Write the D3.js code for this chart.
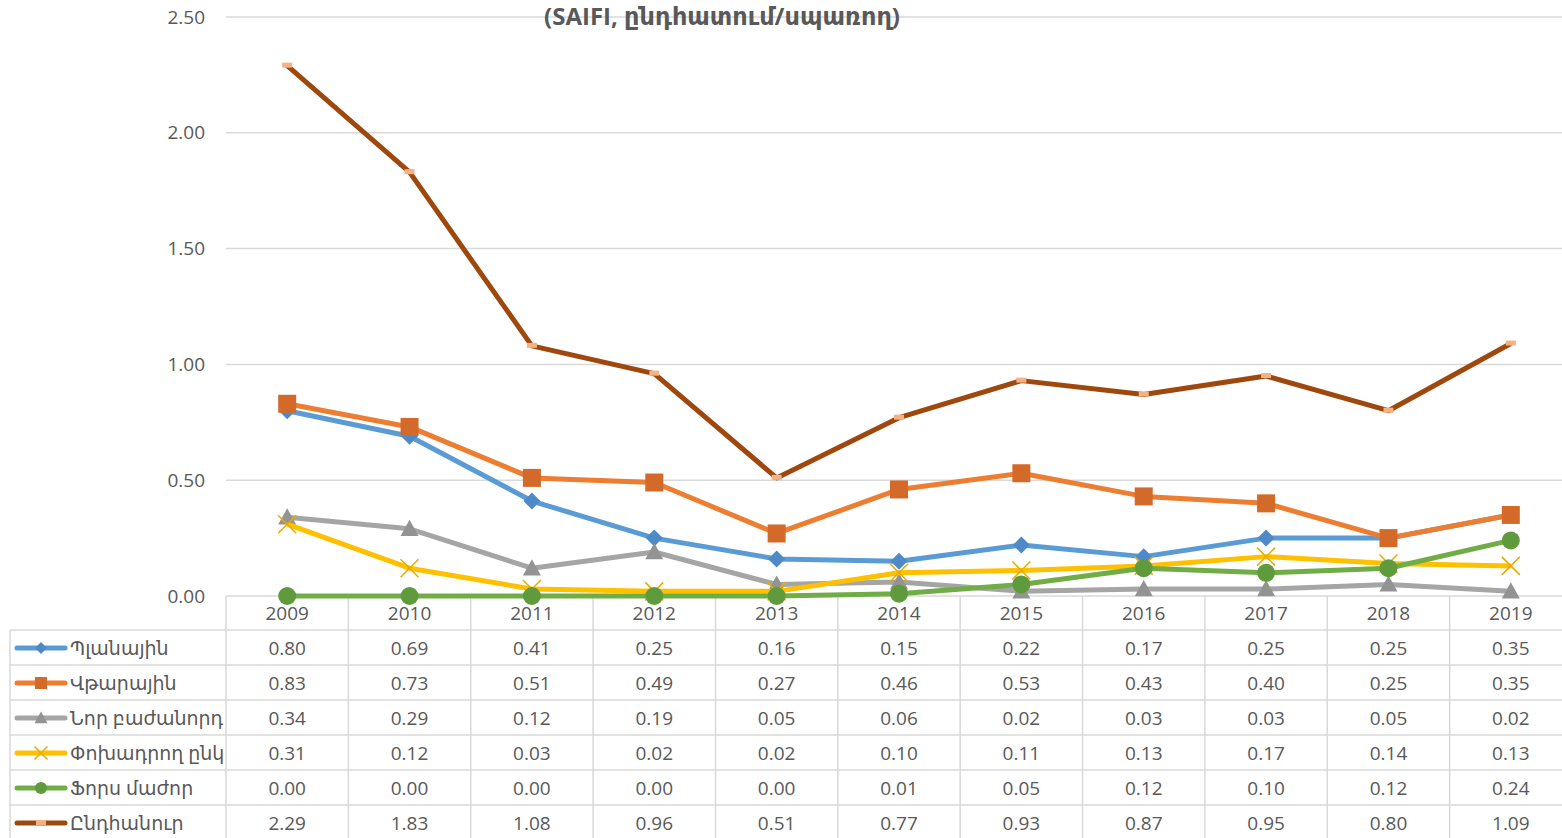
<!DOCTYPE html>
<html lang="hy">
<head>
<meta charset="UTF-8">
<title>SAIFI</title>
<script src="https://cdn.jsdelivr.net/npm/d3@7"></script>
<style>
  body { margin: 0; background: #fff; overflow: hidden; }
  text { font-family: "Open Sans", "DejaVu Sans", sans-serif; }
</style>
</head>
<body>
<script>
  // data
  var years = ["2009","2010","2011","2012","2013","2014","2015","2016","2017","2018","2019"];
  var seriesNames = ["Պլանային","Վթարային","Նոր բաժանորդ","Փոխադրող ընկ","Ֆորս մաժոր","Ընդհանուր"];
  var planayin   = [0.80,0.69,0.41,0.25,0.16,0.15,0.22,0.17,0.25,0.25,0.35];
  var vtarayin   = [0.83,0.73,0.51,0.49,0.27,0.46,0.53,0.43,0.40,0.25,0.35];
  var norBazh    = [0.34,0.29,0.12,0.19,0.05,0.06,0.02,0.03,0.03,0.05,0.02];
  var pokhadrogh = [0.31,0.12,0.03,0.02,0.02,0.10,0.11,0.13,0.17,0.14,0.13];
  var forsMazhor = [0.00,0.00,0.00,0.00,0.00,0.01,0.05,0.12,0.10,0.12,0.24];
  var yndhanur   = [2.29,1.83,1.08,0.96,0.51,0.77,0.93,0.87,0.95,0.80,1.09];
  var yTicks = [0, 0.5, 1, 1.5, 2, 2.5];
  var title = "(SAIFI, ընդհատում/սպառող)";

  var values = [planayin, vtarayin, norBazh, pokhadrogh, forsMazhor, yndhanur];
  var lineColors   = ["#5B9BD5","#ED7D31","#A5A5A5","#FFC000","#70AD47","#9E480E"];
  var markerColors = ["#4E8AC8","#D46A2A","#939393","#E6AC00","#5F9A3C","#F4B183"];
  var markers      = ["diamond","square","triangle","x","circle","dash"];

  var width = 1562, height = 838;
  var plotLeft = 226, plotRight = 1572, plotTop = 17, plotBottom = 596;
  var rowH = 35, headerBottom = 630;

  var svg = d3.select("body").append("svg")
      .attr("width", width)
      .attr("height", height);

  var x = d3.scaleBand().domain(years).range([plotLeft, plotRight]);
  var y = d3.scaleLinear().domain([0, 2.5]).range([plotBottom, plotTop]);

  // gridlines
  svg.append("g").selectAll("line").data(yTicks).join("line")
      .attr("x1", plotLeft).attr("x2", width)
      .attr("y1", d => y(d)).attr("y2", d => y(d))
      .attr("stroke", "#D9D9D9").attr("stroke-width", 1.5);

  // y axis labels
  var yAxis = d3.axisLeft(y).tickValues(yTicks).tickFormat(d3.format(".2f")).tickSize(0).tickPadding(21);
  var gy = svg.append("g").attr("transform", "translate(" + plotLeft + ",0)").call(yAxis);
  gy.select(".domain").remove();
  gy.selectAll("text").attr("font-size", 19).attr("fill", "#595959")
      .style("font-family", "'Open Sans', 'DejaVu Sans', sans-serif");

  // title
  svg.append("text")
      .attr("x", 722).attr("y", 25)
      .attr("text-anchor", "middle")
      .attr("font-size", 24).attr("font-weight", "bold")
      .attr("fill", "#595959")
      .text(title);

  // table grid
  var tbl = svg.append("g");
  var colEdges = years.map(d => x(d));
  tbl.selectAll("line.v").data(colEdges).join("line")
      .attr("class", "v")
      .attr("x1", d => d).attr("x2", d => d)
      .attr("y1", plotBottom).attr("y2", height)
      .attr("stroke", "#D9D9D9").attr("stroke-width", 1.5);
  tbl.append("line")
      .attr("x1", 10).attr("x2", 10).attr("y1", headerBottom).attr("y2", height)
      .attr("stroke", "#D9D9D9").attr("stroke-width", 1.5);
  var rowLines = d3.range(0, 6).map(i => headerBottom + i * rowH);
  tbl.selectAll("line.h").data(rowLines).join("line")
      .attr("class", "h")
      .attr("x1", 10).attr("x2", width)
      .attr("y1", d => d).attr("y2", d => d)
      .attr("stroke", "#D9D9D9").attr("stroke-width", 1.5);

  // header years
  tbl.selectAll("text.yr").data(years).join("text")
      .attr("class", "yr")
      .attr("x", d => x(d) + x.bandwidth() / 2)
      .attr("y", 620)
      .attr("text-anchor", "middle")
      .attr("font-size", 19).attr("fill", "#595959")
      .text(d => d);

  // table values
  values.forEach(function(vals, i) {
    tbl.append("g").selectAll("text").data(vals).join("text")
        .attr("x", (d, j) => x(years[j]) + x.bandwidth() / 2)
        .attr("y", headerBottom + i * rowH + 25)
        .attr("text-anchor", "middle")
        .attr("font-size", 19).attr("fill", "#595959")
        .text(d => d.toFixed(2));
  });

  function drawMarker(g, type, color, cx, cy, s) {
    var h = s / 2;
    if (type === "diamond") {
      g.append("path")
        .attr("d", "M" + cx + "," + (cy - h) + "L" + (cx + h) + "," + cy +
          "L" + cx + "," + (cy + h) + "L" + (cx - h) + "," + cy + "Z")
        .attr("fill", color);
    } else if (type === "square") {
      g.append("rect").attr("x", cx - h).attr("y", cy - h)
        .attr("width", s).attr("height", s).attr("fill", color);
    } else if (type === "triangle") {
      g.append("path")
        .attr("d", "M" + cx + "," + (cy - h) + "L" + (cx + h) + "," + (cy + h * 0.8) +
          "L" + (cx - h) + "," + (cy + h * 0.8) + "Z")
        .attr("fill", color);
    } else if (type === "x") {
      g.append("path").attr("d", "M" + (cx - h) + "," + (cy - h) + "L" + (cx + h) + "," + (cy + h) +
          "M" + (cx - h) + "," + (cy + h) + "L" + (cx + h) + "," + (cy - h))
        .attr("stroke", color).attr("stroke-width", 1.5);
    } else if (type === "circle") {
      g.append("circle").attr("cx", cx).attr("cy", cy).attr("r", h).attr("fill", color);
    } else if (type === "dash") {
      g.append("rect").attr("x", cx - 5).attr("y", cy - 3)
        .attr("width", 10).attr("height", 5).attr("fill", color);
    }
  }

  var sizes = [17, 18, 18, 18, 18, 10];
  var legendSizes = [12, 12, 13, 13, 12, 10];

  // series lines and markers
  var line = d3.line()
      .x((d, j) => x(years[j]) + x.bandwidth() / 2)
      .y(d => y(d));

  values.forEach(function(vals, i) {
    var g = svg.append("g");
    g.append("path")
        .attr("d", line(vals))
        .attr("fill", "none")
        .attr("stroke", lineColors[i])
        .attr("stroke-width", 5)
        .attr("stroke-linejoin", "round");
    vals.forEach(function(v, j) {
      drawMarker(g, markers[i], markerColors[i],
        x(years[j]) + x.bandwidth() / 2, y(v), sizes[i]);
    });
  });

  // legend keys in table
  seriesNames.forEach(function(name, i) {
    var cy = headerBottom + i * rowH + 18;
    var g = svg.append("g");
    g.append("line")
        .attr("x1", 17).attr("x2", 65).attr("y1", cy).attr("y2", cy)
        .attr("stroke", lineColors[i]).attr("stroke-width", 5).attr("stroke-linecap", "round");
    drawMarker(g, markers[i], markerColors[i], 41, cy, legendSizes[i]);
    g.append("text")
        .attr("x", 70).attr("y", cy + 7)
        .attr("font-size", 19).attr("fill", "#595959")
        .text(name);
  });
</script>
</body>
</html>
